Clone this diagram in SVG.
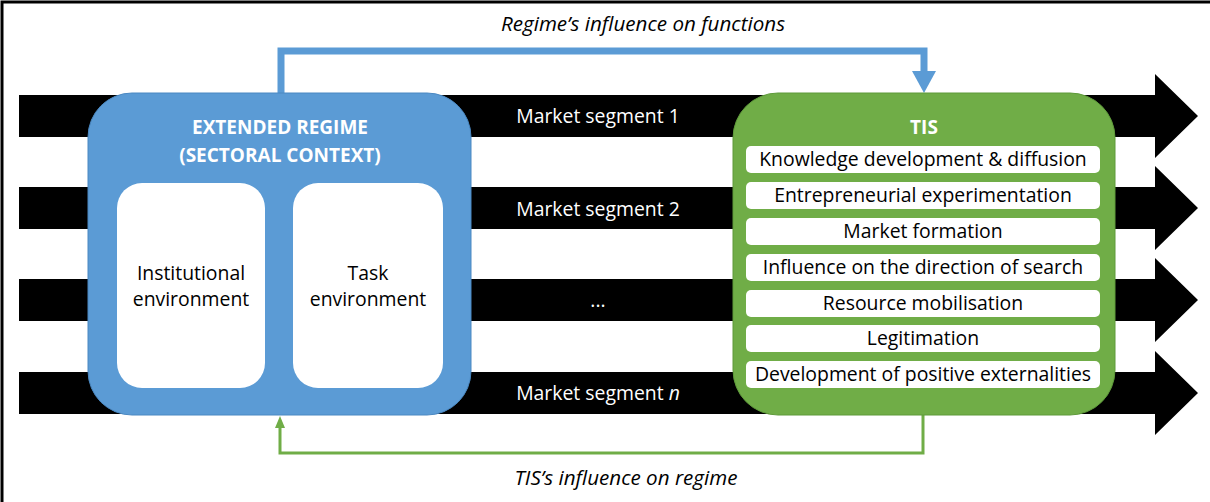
<svg xmlns="http://www.w3.org/2000/svg" width="1210" height="502" viewBox="0 0 1210 502">
<defs>
<style>
.t{font-family:"Open Sans","Liberation Sans",sans-serif;font-size:19.4px;fill:#000;text-anchor:middle}
.w{fill:#fff}
.b{font-weight:bold;font-size:19px}
.i{font-style:italic}
.lab{font-size:20.6px}
.arr{fill:#000}
</style>
</defs>
<rect width="1210" height="502" fill="#fff"/>
<path d="M2,502 V2 H1210" fill="none" stroke="#000" stroke-width="3"/>
<g id="market-arrows">
<polygon class="arr" points="19,95 1155,95 1155,74 1198,116 1155,158 1155,137 19,137"/>
<polygon class="arr" points="19,187 1155,187 1155,166 1198,208 1155,250 1155,229 19,229"/>
<polygon class="arr" points="19,279 1155,279 1155,258 1198,300 1155,342 1155,321 19,321"/>
<polygon class="arr" points="19,372 1155,372 1155,351 1198,393 1155,435 1155,414 19,414"/>
<text class="t w" x="598" y="123">Market segment 1</text>
<text class="t w" x="598" y="216">Market segment 2</text>
<text class="t w" x="598" y="307">...</text>
<text class="t w" x="598" y="400">Market segment <tspan class="i">n</tspan></text>
</g>
<g id="connectors">
<polyline points="281,93 281,51 924,51 924,71" fill="none" stroke="#5B9BD5" stroke-width="7"/>
<polygon points="912,71 936,71 924,93" fill="#5B9BD5"/>
<polyline points="923,415 923,453 280,453 280,427" fill="none" stroke="#70AD47" stroke-width="3"/>
<polygon points="275,428 285,428 280,416" fill="#70AD47"/>
<text class="t i lab" x="643" y="31">Regime’s influence on functions</text>
<text class="t i lab" x="626" y="485">TIS’s influence on regime</text>
</g>
<g id="regime">
<rect x="88" y="93" width="383" height="322" rx="44" fill="#5B9BD5" stroke="#4A88C2" stroke-width="1"/>
<text class="t w b" x="280" y="134">EXTENDED REGIME</text>
<text class="t w b" x="280" y="162">(SECTORAL CONTEXT)</text>
<g id="institutional">
<rect x="117" y="183" width="148" height="205" rx="25" fill="#fff"/>
<text class="t" x="191" y="280">Institutional</text>
<text class="t" x="191" y="306">environment</text>
</g>
<g id="task">
<rect x="293" y="183" width="150" height="205" rx="25" fill="#fff"/>
<text class="t" x="368" y="280">Task</text>
<text class="t" x="368" y="306">environment</text>
</g>
</g>
<g id="tis">
<rect x="733" y="93" width="382" height="322" rx="45" fill="#70AD47" stroke="#5E9A3A" stroke-width="1"/>
<text class="t w b" x="924" y="134">TIS</text>
<g id="f1"><rect x="746" y="146" width="354" height="27" rx="5" fill="#fff"/><text class="t" x="923" y="166">Knowledge development &amp; diffusion</text></g>
<g id="f2"><rect x="746" y="182" width="354" height="27" rx="5" fill="#fff"/><text class="t" x="923" y="202">Entrepreneurial experimentation</text></g>
<g id="f3"><rect x="746" y="218" width="354" height="27" rx="5" fill="#fff"/><text class="t" x="923" y="238">Market formation</text></g>
<g id="f4"><rect x="746" y="254" width="354" height="27" rx="5" fill="#fff"/><text class="t" x="923" y="274">Influence on the direction of search</text></g>
<g id="f5"><rect x="746" y="290" width="354" height="27" rx="5" fill="#fff"/><text class="t" x="923" y="310">Resource mobilisation</text></g>
<g id="f6"><rect x="746" y="325" width="354" height="27" rx="5" fill="#fff"/><text class="t" x="923" y="345">Legitimation</text></g>
<g id="f7"><rect x="746" y="361" width="354" height="27" rx="5" fill="#fff"/><text class="t" x="923" y="381">Development of positive externalities</text></g>
</g>
</svg>
